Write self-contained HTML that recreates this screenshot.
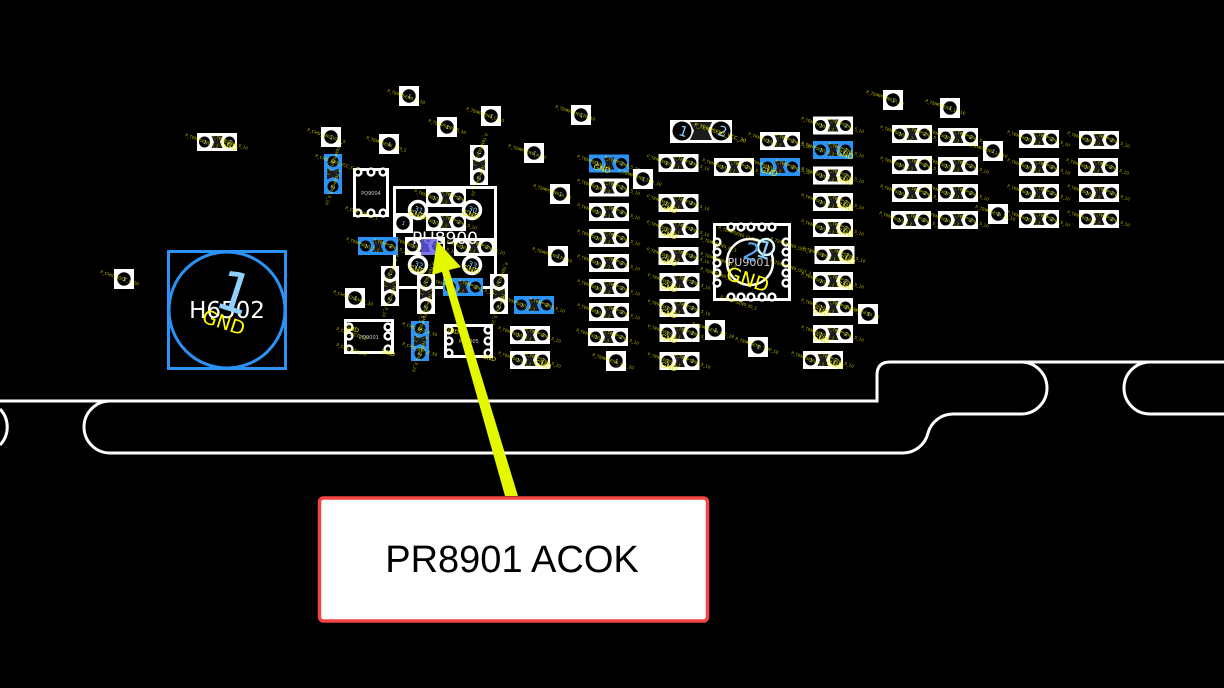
<!DOCTYPE html>
<html>
<head>
<meta charset="utf-8">
<style>
html,body{margin:0;padding:0;background:#000;width:1224px;height:688px;overflow:hidden}
svg{display:block;font-family:"Liberation Sans","DejaVu Sans",sans-serif}
.l text{font-size:4.2px;fill:#ff0;fill-opacity:.7;font-family:"DejaVu Sans",sans-serif}
.g text{font-size:7.5px;fill:#eeee00;font-family:"DejaVu Sans",sans-serif}
.n{fill:#8fd0ff;font-size:5.5px;text-anchor:middle;font-family:"DejaVu Sans",sans-serif}
.m{fill:#8fd0ff;font-size:8px;text-anchor:middle;font-family:"DejaVu Sans",sans-serif}
.t{fill:#ff0;fill-opacity:.7;font-size:4px;font-family:"DejaVu Sans",sans-serif}
.p{fill:#ccc;font-size:5px;text-anchor:middle;font-family:"DejaVu Sans",sans-serif}
</style>
</head>
<body>
<svg width="1224" height="688" viewBox="0 0 1224 688" xmlns="http://www.w3.org/2000/svg">
<defs>
<g id="h">
<rect x="-20" y="-9" width="40" height="18" fill="currentColor"/>
<polygon points="-5.500,-6 5.500,-6 3,0 5.500,6 -5.500,6 -3,0" fill="#1c1c1c"/>
<circle cx="-12.500" cy="0" r="5.500" fill="#000"/>
<circle cx="12.500" cy="0" r="5.500" fill="#000"/>
<text class="n" transform="translate(-12.500,2) rotate(18)">1</text>
<text class="n" transform="translate(12.500,2) rotate(18)">2</text>
<text class="t" transform="translate(-32,-6) rotate(20)">P_TEMPSENS_5_1</text>
<text class="t" transform="translate(-5,-5) rotate(20)">P_TEMPSENS_5_10</text>
</g>
<g id="s">
<rect x="-10" y="-10" width="20" height="20" fill="#fff"/>
<circle r="6.700" fill="#000"/>
<text class="n" transform="translate(0,2) rotate(18)">1</text>
</g>
<g id="r">
<circle r="8.500" fill="#000" stroke="#fff" stroke-width="3.500"/>
</g>
<g id="d"><circle r="3.400" fill="#000" stroke="#fff" stroke-width="2.400"/></g>
</defs>

<rect width="1224" height="688" fill="#000"/>

<!-- board outline -->
<g fill="none" stroke="#fff" stroke-width="3">
<path d="M0 401H877V375Q877 362 890 362H1021A26 26 0 0 1 1021 414H953A26 26 0 0 0 928 433A26 26 0 0 1 903 453H110A26 26 0 0 1 110 401"/>
<path d="M1021 362H1224"/>
<path d="M1224 414H1150A26 26 0 0 1 1150 362"/>
<path d="M0 409A26 26 0 0 1 0 445"/>
</g>

<!-- H6502 -->
<g fill="none" stroke="#2b93f5" stroke-width="3">
<rect x="168.500" y="251.500" width="117" height="117"/>
<circle cx="227" cy="310" r="58"/>
</g>
<text x="227" y="318" font-size="23" fill="#fff" text-anchor="middle" font-family="DejaVu Sans">H6502</text>
<text transform="translate(212.500,305.500) rotate(18)" font-size="55" fill="#8fd0ff" font-family="DejaVu Sans">1</text>
<text transform="translate(201,322) rotate(18)" font-size="19" fill="#ff0" font-family="DejaVu Sans">GND</text>

<!-- PQ9004 -->
<rect x="354.500" y="169.500" width="33" height="46" fill="none" stroke="#fff" stroke-width="3"/>
<use href="#d" x="358" y="172"/><use href="#d" x="371" y="172"/><use href="#d" x="383" y="172"/>
<use href="#d" x="358" y="213"/><use href="#d" x="371" y="213"/><use href="#d" x="383" y="213"/>
<text class="p" x="371" y="195">PQ9004</text>

<!-- PQ9001 -->
<rect x="345.500" y="320.500" width="47" height="32" fill="none" stroke="#fff" stroke-width="3"/>
<use href="#d" x="349" y="327"/><use href="#d" x="349" y="336"/><use href="#d" x="349" y="349"/>
<use href="#d" x="388" y="327"/><use href="#d" x="388" y="336"/><use href="#d" x="388" y="349"/>
<text class="p" x="369" y="339">PQ9001</text>

<!-- PQ9005 -->
<rect x="445.500" y="325.500" width="46" height="31" fill="none" stroke="#fff" stroke-width="3"/>
<use href="#d" x="449" y="330"/><use href="#d" x="449" y="341"/><use href="#d" x="449" y="353"/>
<use href="#d" x="488" y="330"/><use href="#d" x="488" y="341"/><use href="#d" x="488" y="353"/>
<text class="p" x="469" y="343">PQ9005</text>

<!-- PU8900 -->
<rect x="394.500" y="187.500" width="101" height="100" fill="none" stroke="#fff" stroke-width="3"/>
<use href="#h" x="446" y="198" color="#fff"/>
<use href="#h" x="446" y="222" color="#fff"/>
<use href="#h" x="425" y="246" color="#fff"/>
<use href="#h" x="474" y="247" color="#fff"/>
<use href="#r" x="418" y="210"/><use href="#r" x="472" y="210"/>
<use href="#r" x="418" y="265"/><use href="#r" x="472" y="265"/>
<text class="m" transform="translate(418,212) rotate(18)" style="font-size:7px">31</text>
<text class="m" transform="translate(472,212) rotate(18)" style="font-size:7px">30</text>
<text class="m" transform="translate(418,267) rotate(18)" style="font-size:7px">32</text>
<text class="m" transform="translate(472,267) rotate(18)" style="font-size:7px">33</text>
<use href="#s" x="403" y="223"/>
<text x="445" y="244" font-size="17" fill="#fff" text-anchor="middle" font-family="DejaVu Sans">PU8900</text>
<rect x="421" y="239" width="16" height="16" fill="#5a55e8" fill-opacity=".8"/>

<!-- PU9001 -->
<rect x="714.500" y="224.500" width="75" height="75" fill="none" stroke="#fff" stroke-width="3"/>
<use href="#d" x="731" y="227"/><use href="#d" x="741" y="227"/><use href="#d" x="751" y="227"/><use href="#d" x="762" y="227"/><use href="#d" x="772" y="227"/>
<use href="#d" x="731" y="297"/><use href="#d" x="741" y="297"/><use href="#d" x="751" y="297"/><use href="#d" x="762" y="297"/><use href="#d" x="772" y="297"/>
<use href="#d" x="717" y="242"/><use href="#d" x="717" y="252"/><use href="#d" x="717" y="263"/><use href="#d" x="717" y="273"/><use href="#d" x="717" y="283"/>
<use href="#d" x="786" y="242"/><use href="#d" x="786" y="252"/><use href="#d" x="786" y="263"/><use href="#d" x="786" y="273"/><use href="#d" x="786" y="283"/>
<circle cx="750" cy="262" r="23" fill="none" stroke="#fff" stroke-width="2.500"/>
<circle cx="766" cy="247" r="8" fill="#000" stroke="#dff" stroke-width="2.500"/>
<text x="749" y="266" font-size="11" fill="#ccc" text-anchor="middle" font-family="DejaVu Sans">PU9001</text>
<text transform="translate(749,260) rotate(18)" font-size="24" fill="#5aa8ee" text-anchor="middle" font-family="DejaVu Sans">2</text>
<text transform="translate(762,258) rotate(18)" font-size="24" fill="#8fd0ff" text-anchor="middle" font-family="DejaVu Sans">1</text>
<text transform="translate(725,279) rotate(18)" font-size="19" fill="#ff0" font-family="DejaVu Sans">GND</text>

<!-- two-pad parts -->
<use href="#h" x="217" y="142" color="#fff"/>
<use href="#h" x="378" y="246" color="#2b93f5"/>
<use href="#h" transform="translate(333,174) rotate(90)" color="#2b93f5"/>
<use href="#h" transform="translate(479,165) rotate(90)" color="#fff"/>
<use href="#h" transform="translate(390,286) rotate(90)" color="#fff"/>
<use href="#h" transform="translate(426,294) rotate(90)" color="#fff"/>
<use href="#h" transform="translate(499,294) rotate(90)" color="#fff"/>
<use href="#h" transform="translate(420,341) rotate(90)" color="#2b93f5"/>
<use href="#h" x="463" y="287" color="#2b93f5"/>
<use href="#h" x="534" y="305" color="#2b93f5"/>
<use href="#h" x="530" y="335" color="#fff"/>
<use href="#h" x="530" y="360" color="#fff"/>

<use href="#h" x="609" y="163.500" color="#2b93f5"/>
<use href="#h" x="609" y="187.500" color="#fff"/>
<use href="#h" x="609" y="212" color="#fff"/>
<use href="#h" x="609" y="238" color="#fff"/>
<use href="#h" x="609" y="263" color="#fff"/>
<use href="#h" x="609" y="288" color="#fff"/>
<use href="#h" x="609" y="312" color="#fff"/>
<use href="#h" x="608" y="337" color="#fff"/>

<use href="#h" x="678.500" y="163" color="#fff"/>
<use href="#h" x="678.500" y="203" color="#fff"/>
<use href="#h" x="678.500" y="229" color="#fff"/>
<use href="#h" x="678.500" y="256" color="#fff"/>
<use href="#h" x="679.500" y="282" color="#fff"/>
<use href="#h" x="679.500" y="308" color="#fff"/>
<use href="#h" x="679.500" y="333" color="#fff"/>
<use href="#h" x="679.500" y="361" color="#fff"/>

<use href="#h" x="734" y="167" color="#fff"/>
<use href="#h" x="780" y="141" color="#fff"/>
<use href="#h" x="780" y="167" color="#2b93f5"/>

<use href="#h" x="833" y="125.500" color="#fff"/>
<use href="#h" x="833" y="150" color="#2b93f5"/>
<use href="#h" x="833" y="175.500" color="#fff"/>
<use href="#h" x="833" y="202" color="#fff"/>
<use href="#h" x="833" y="228" color="#fff"/>
<use href="#h" x="834.500" y="255" color="#fff"/>
<use href="#h" x="833" y="281" color="#fff"/>
<use href="#h" x="833" y="307" color="#fff"/>
<use href="#h" x="833" y="334" color="#fff"/>
<use href="#h" x="823" y="360" color="#fff"/>

<use href="#h" x="912" y="134" color="#fff"/>
<use href="#h" x="912" y="165" color="#fff"/>
<use href="#h" x="912" y="193" color="#fff"/>
<use href="#h" x="911" y="220" color="#fff"/>
<use href="#h" x="958" y="137" color="#fff"/>
<use href="#h" x="958" y="166" color="#fff"/>
<use href="#h" x="958" y="193" color="#fff"/>
<use href="#h" x="958" y="220" color="#fff"/>
<use href="#h" x="1039" y="139" color="#fff"/>
<use href="#h" x="1039" y="167" color="#fff"/>
<use href="#h" x="1039" y="193" color="#fff"/>
<use href="#h" x="1039" y="219" color="#fff"/>
<use href="#h" x="1099" y="140" color="#fff"/>
<use href="#h" x="1098" y="167" color="#fff"/>
<use href="#h" x="1099" y="193" color="#fff"/>
<use href="#h" x="1099" y="219" color="#fff"/>

<!-- big part -->
<rect x="670" y="120" width="62" height="23" fill="#fff"/>
<polygon points="690,122 712,122 708,131 712,140 690,140 694,131" fill="#1c1c1c"/>
<circle cx="682" cy="131" r="9.500" fill="#000"/>
<circle cx="721" cy="131" r="9.500" fill="#000"/>
<text transform="translate(682,136) rotate(18)" font-size="14" fill="#8fd0ff" text-anchor="middle" font-family="DejaVu Sans">1</text>
<text transform="translate(721,136) rotate(18)" font-size="14" fill="#8fd0ff" text-anchor="middle" font-family="DejaVu Sans">2</text>

<!-- single pads -->
<use href="#s" x="124" y="279"/><use href="#s" x="331" y="137"/><use href="#s" x="389" y="144"/>
<use href="#s" x="355" y="298"/><use href="#s" x="409" y="96"/><use href="#s" x="447" y="127"/>
<use href="#s" x="491" y="116"/><use href="#s" x="534" y="153"/><use href="#s" x="581" y="115"/>
<use href="#s" x="643" y="179"/><use href="#s" x="560" y="194"/><use href="#s" x="558" y="256"/>
<use href="#s" x="715" y="330"/><use href="#s" x="758" y="347"/><use href="#s" x="616" y="361"/>
<use href="#s" x="868" y="314"/><use href="#s" x="893" y="100"/><use href="#s" x="950" y="108"/>
<use href="#s" x="993" y="151"/><use href="#s" x="998" y="214"/>

<!-- net labels -->
<g class="l">
<text transform="translate(100,273) rotate(18)">P_CHG_BOOT_C_20</text>
<text transform="translate(307,131) rotate(18)">P_CHG_SNS_VCC_5</text>
<text transform="translate(315,157) rotate(18)">P_CHG_SNS_VCC_C_1</text>
<text transform="translate(366,139) rotate(18)">P_TEMPSENS_3V3_5</text>
<text transform="translate(333,293) rotate(18)">P_CHG_CHGVCC_10</text>
<text transform="translate(387,92) rotate(18)">P_TEMPSENS_A_10</text>
<text transform="translate(428,122) rotate(18)">P_TEMPSENS_B_10</text>
<text transform="translate(466,110) rotate(18)">P_TEMPSENS_C_10</text>
<text transform="translate(508,147) rotate(18)">P_TEMPSENS_A_10</text>
<text transform="translate(555,108) rotate(18)">P_TEMPSENS_PA_10</text>
<text transform="translate(533,187) rotate(18)">P_TEMPSENS_A_10</text>
<text transform="translate(532,250) rotate(18)">P_TEMPSENS_PA_10</text>
<text transform="translate(592,356) rotate(18)">P_TEMPSENS_VIC_10</text>
<text transform="translate(618,172) rotate(18)">P_TEMPSENS_SDA_10</text>
<text transform="translate(692,325) rotate(18)">P_TEMPSENS_VIC_18</text>
<text transform="translate(735,340) rotate(18)">P_TEMPSENS_VDP_10</text>
<text transform="translate(846,308) rotate(18)">P_TEMPSENS_16</text>
<text transform="translate(866,93) rotate(18)">P_TEMPSENS_R_10</text>
<text transform="translate(925,102) rotate(18)">P_TEMPSENS_15_10</text>
<text transform="translate(967,145) rotate(18)">P_TEMPSENS_14_10</text>
<text transform="translate(975,208) rotate(18)">P_TEMPSENS_13_10</text>
<text transform="translate(345,209) rotate(18)">P_CHG_SNS_C_1</text>
<text transform="translate(336,330) rotate(18)">P_CHG_VCC_10</text>
<text transform="translate(336,346) rotate(18)">P_CHG_VSS_10</text>
<text transform="translate(402,325) rotate(18)">P_CHG_BST_A_10</text>
<text transform="translate(402,345) rotate(18)">P_CHG_BST_B_10</text>
<text transform="translate(718,229) rotate(18)">P_TEMPSENS_CLK_1</text>
<text transform="translate(720,298) rotate(18)">P_TEMPSENS_IO_1</text>
<text transform="translate(700,240) rotate(18)">P_TEMPSENS_IN_1</text>
<text transform="translate(700,255) rotate(18)">P_TEMPSENS_IN_2</text>
<text transform="translate(700,270) rotate(18)">P_TEMPSENS_IN_3</text>
<text transform="translate(770,240) rotate(18)">P_TEMPSENS_OUT_1</text>
<text transform="translate(770,262) rotate(18)">P_TEMPSENS_OUT_2</text>
<text transform="translate(694,126) rotate(18)" style="font-size:5px;fill-opacity:.85">P_TEMPSENS_VCC_30</text>
</g>

<!-- GND labels -->
<g class="g">
<text transform="translate(593,169) rotate(15)">GND</text>
<text transform="translate(660,209) rotate(15)">GND</text>
<text transform="translate(660,235) rotate(15)">GND</text>
<text transform="translate(660,262) rotate(15)">GND</text>
<text transform="translate(660,288) rotate(15)">GND</text>
<text transform="translate(660,314) rotate(15)">GND</text>
<text transform="translate(660,339) rotate(15)">GND</text>
<text transform="translate(660,367) rotate(15)">GND</text>
<text transform="translate(760,172) rotate(15)">GND</text>
<text transform="translate(836,155) rotate(15)">GND</text>
<text transform="translate(836,181) rotate(15)">GND</text>
<text transform="translate(836,207) rotate(15)">GND</text>
<text transform="translate(836,233) rotate(15)">GND</text>
<text transform="translate(838,260) rotate(15)">GND</text>
<text transform="translate(836,286) rotate(15)">GND</text>
<text transform="translate(812,312) rotate(15)">GND</text>
<text transform="translate(812,339) rotate(15)">GND</text>
<text transform="translate(826,365) rotate(15)">GND</text>
<text transform="translate(220,146) rotate(15)">GND</text>
<text transform="translate(408,215) rotate(15)">GND</text>
<text transform="translate(462,215) rotate(15)">GND</text>
<text transform="translate(408,270) rotate(15)">GND</text>
<text transform="translate(462,270) rotate(15)">GND</text>
<text transform="translate(534,365) rotate(15)">GND</text>
<text transform="translate(345,329) rotate(15)" style="font-size:6px">GND</text>
<text transform="translate(381,353) rotate(15)" style="font-size:6px">GND</text>
<text transform="translate(445,331) rotate(15)" style="font-size:6px">GND</text>
<text transform="translate(482,358) rotate(15)" style="font-size:6px">GND</text>
</g>

<!-- arrow -->
<polygon points="505,496 518,496 449,270 461,267 437,241 432,275 442,272" fill="#e4f800"/>

<!-- callout -->
<rect x="319.500" y="498" width="388" height="123" rx="4" fill="#fff" stroke="#f54444" stroke-width="3.500"/>
<text x="512" y="572" font-size="38" fill="#000" text-anchor="middle">PR8901 ACOK</text>
</svg>
</body>
</html>
